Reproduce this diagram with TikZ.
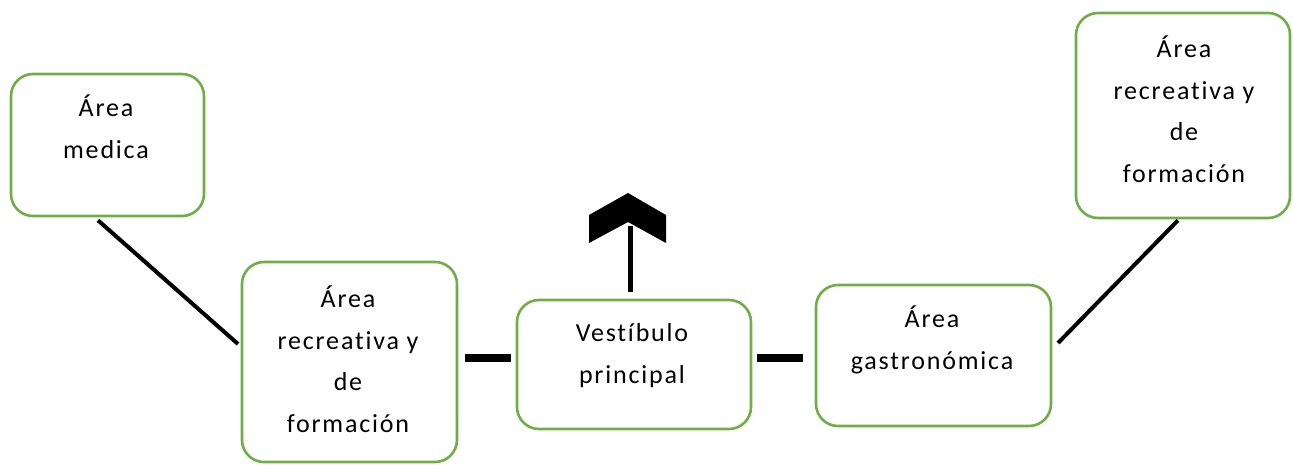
\documentclass[tikz,border=0pt]{standalone}
\usepackage{fontspec}
\setmainfont{Carlito}[LetterSpace=7, Ligatures={NoCommon}]
\definecolor{boxgreen}{RGB}{112,173,71}
\begin{document}
\begin{tikzpicture}[x=1pt,y=-1pt,
  box/.style={draw=boxgreen, line width=2.6pt, rounded corners=22pt, fill=white, inner sep=0pt},
  lbl/.style={align=center, inner sep=0pt, anchor=base, font=\fontsize{26}{41.5}\selectfont},
  conn/.style={line width=4pt, black},
  bar/.style={line width=7.5pt, black},
  shaft/.style={line width=5pt, black}]
\useasboundingbox (0,0) rectangle (1293,464);
% boxes
\node[box, minimum width=193pt, minimum height=142pt] (b1) at (107.5,145) {};
\node[box, minimum width=215pt, minimum height=200pt] (b2) at (349.5,362) {};
\node[box, minimum width=234pt, minimum height=129pt] (b3) at (634,364.5) {};
\node[box, minimum width=235pt, minimum height=141pt] (b4) at (933.5,355.5) {};
\node[box, minimum width=214pt, minimum height=205pt] (b5) at (1183,115.5) {};
% labels (base = baseline of last line)
\node[lbl] (t1) at (106,158) {Área\\medica};
\node[lbl] (t2) at (348,432) {Área\\recreativa y\\de\\formación};
\node[lbl] (t3) at (632,383) {Vestíbulo\\principal};
\node[lbl] (t4) at (932,369) {Área\\gastronómica};
\node[lbl] (t5) at (1184,182) {Área\\recreativa y\\de\\formación};
% connectors
\coordinate (c1) at (238,344);
\draw[conn] ([xshift=-9.5pt,yshift=-3pt]b1.south) -- (c1);
\coordinate (c2) at (1058,343);
\draw[conn] (c2) -- ([xshift=-5pt,yshift=-1pt]b5.south);
\coordinate (l1) at (465,358);
\coordinate (l2) at (511,358);
\draw[bar] (l1) -- (l2);
\coordinate (r1) at (757,358);
\coordinate (r2) at (803,358);
\draw[bar] (r1) -- (r2);
% arrow
\coordinate (s0) at (630,292);
\coordinate (s1) at (630,226);
\draw[shaft] (s0) -- (s1);
\fill[black] (589,215) -- (628,193) -- (666,215) -- (666,243) -- (628,222) -- (589,243) -- cycle;
\end{tikzpicture}
\end{document}
